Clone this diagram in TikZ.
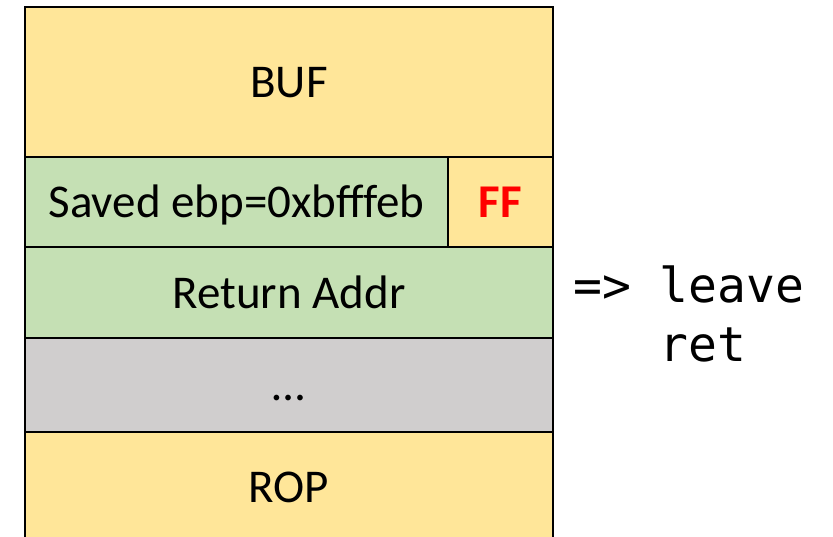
\documentclass[tikz,border=0pt]{standalone}
\usepackage{fontspec}
\setmainfont{Carlito}
\newfontfamily\codefont{DejaVu Sans Mono}
\definecolor{bufc}{HTML}{FFE699}
\definecolor{ebpc}{HTML}{C5E0B4}
\definecolor{gapc}{HTML}{D0CECE}
\tikzset{
  cell/.style={draw=black, line width=2.5pt, inner sep=0pt, text height=31pt, text depth=0pt, font=\fontsize{47}{55}\selectfont},
  code/.style={inner sep=0pt, anchor=base west, align=left, font=\codefont\fontsize{48}{59}\selectfont}
}
\begin{document}
\begin{tikzpicture}[x=1pt,y=-1pt]
    \useasboundingbox (0,0) rectangle (833,536);
    \node[cell, fill=bufc, minimum width=528pt, minimum height=150pt] (buf) at (289,82) {BUF};
    \node[cell, fill=ebpc, minimum width=423pt, minimum height=90pt] (ebp) at (236.5,202) {Saved ebp=0xbfffeb};
    \node[cell, fill=bufc, minimum width=105pt, minimum height=90pt, text=red, font=\fontsize{47}{55}\selectfont\bfseries] (ff) at (500.5,202) {FF};
    \node[cell, fill=ebpc, minimum width=528pt, minimum height=91pt] (ret) at (289,292.5) {Return Addr};
    \node[cell, fill=gapc, minimum width=528pt, minimum height=94pt] (gap) at (289,385) {…};
    \node[cell, fill=bufc, minimum width=528pt, minimum height=110pt] (rop) at (289,487) {ROP};
    \node[code] (asm) at (573,361) {=> leave\\\phantom{=> }ret};
\end{tikzpicture}
\end{document}
